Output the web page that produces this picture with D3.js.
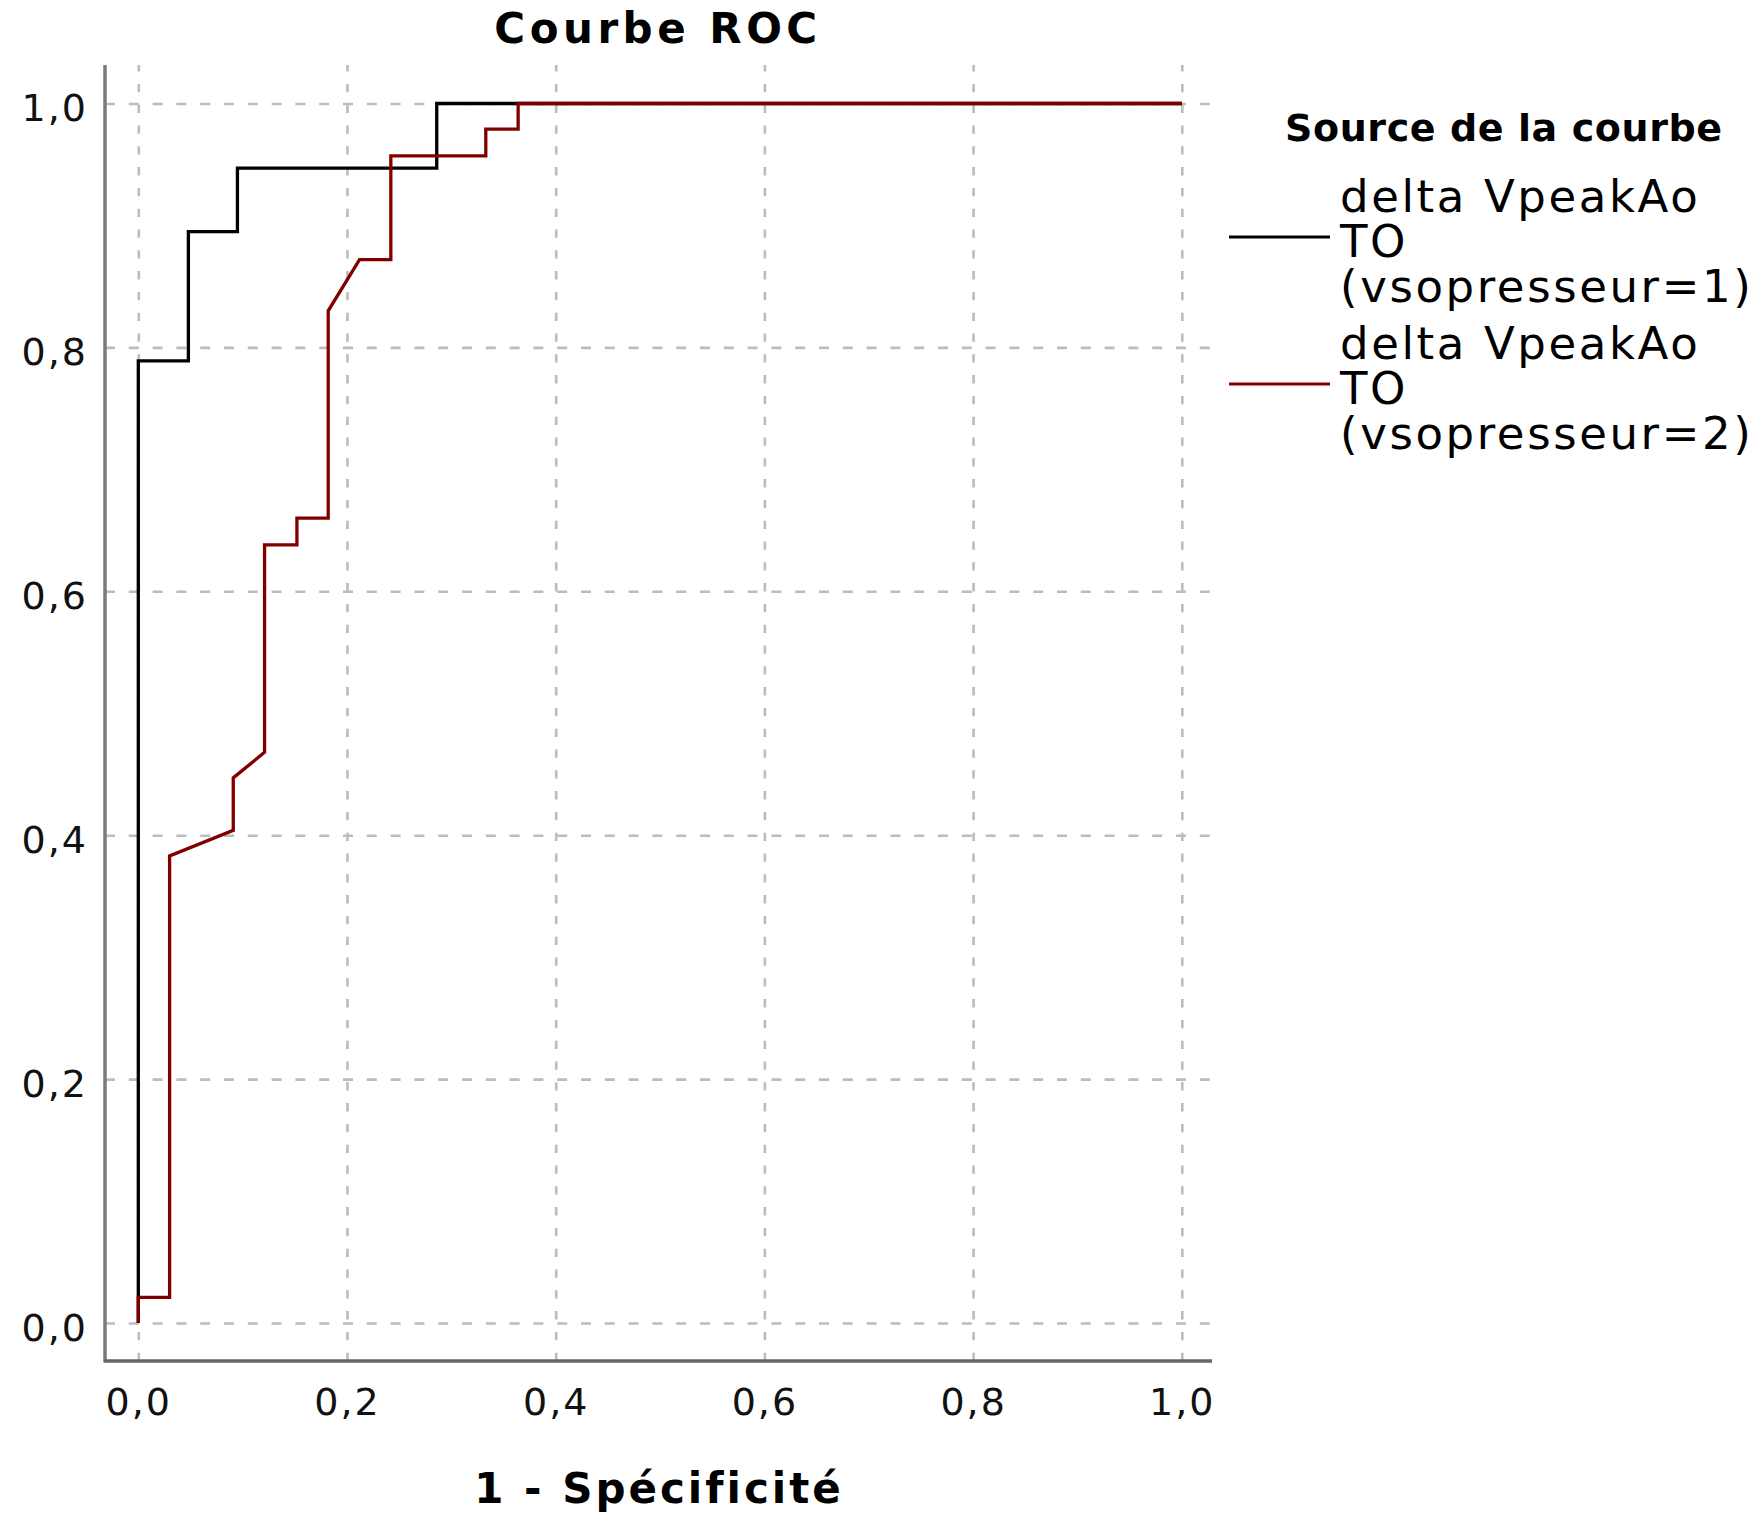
<!DOCTYPE html>
<html>
<head>
<meta charset="utf-8">
<script src="https://cdn.jsdelivr.net/npm/d3@7"></script>
<style>
  html, body { margin: 0; padding: 0; background: #fff; }
  svg { display: block; font-family: "DejaVu Sans", sans-serif; }
</style>
</head>
<body>
<svg id="chart" width="1757" height="1516"></svg>
<script>
// ---------- données ----------
const xTicks = [0, 0.2, 0.4, 0.6, 0.8, 1.0];
const yTicks = [0, 0.2, 0.4, 0.6, 0.8, 1.0];

// vsopresseur = 1
const fprGroupe1 = [0, 0, 0.048, 0.048, 0.095, 0.095, 0.286, 0.286, 1];
const tprGroupe1 = [0, 0.789, 0.789, 0.895, 0.895, 0.947, 0.947, 1, 1];

// vsopresseur = 2
const fprGroupe2 = [0, 0, 0.030, 0.030, 0.091, 0.091, 0.121, 0.121, 0.152, 0.152,
                    0.182, 0.182, 0.212, 0.242, 0.242, 0.333, 0.333, 0.364, 0.364, 1];
const tprGroupe2 = [0, 0.021, 0.021, 0.383, 0.404, 0.447, 0.468, 0.638, 0.638, 0.660,
                    0.660, 0.830, 0.872, 0.872, 0.957, 0.957, 0.979, 0.979, 1, 1];

const nomsSeries = [
  ["delta VpeakAo", "TO", "(vsopresseur=1)"],
  ["delta VpeakAo", "TO", "(vsopresseur=2)"],
];
const couleursSeries = ["#000000", "#800000"];

const titre = "Courbe ROC";
const titreX = "1 - Spécificité";
const titreLegende = "Source de la courbe";

// ---------- mise en page ----------
const svg = d3.select("#chart");

const cadre = { left: 105, right: 1212, top: 65, bottom: 1361 };

const x = d3.scaleLinear().domain([0, 1]).range([138.3, 1181.8]);
const y = d3.scaleLinear().domain([0, 1]).range([1323, 103.5]);

const fr = d3.formatLocale({ decimal: ",", thousands: " ", grouping: [3], currency: ["", " €"] });
const fmt = fr.format(".1f");

// grille verticale
svg.append("g")
  .attr("transform", `translate(0,${cadre.bottom})`)
  .call(d3.axisBottom(x).tickValues(xTicks).tickSize(-(cadre.bottom - cadre.top)).tickFormat(""))
  .call(g => g.select(".domain").remove())
  .call(g => g.selectAll(".tick line")
    .attr("stroke", "#bcbcbc")
    .attr("stroke-width", 2.6)
    .attr("stroke-dasharray", "8.3 12.5"));

// grille horizontale
svg.append("g")
  .attr("transform", `translate(${cadre.left},0)`)
  .call(d3.axisLeft(y).tickValues(yTicks).tickSize(-(cadre.right - cadre.left)).tickFormat(""))
  .call(g => g.select(".domain").remove())
  .call(g => g.selectAll(".tick line")
    .attr("stroke", "#bcbcbc")
    .attr("stroke-width", 2.6)
    .attr("stroke-dasharray", "10 13.8"));

// étiquettes des axes
svg.append("g")
  .attr("transform", `translate(0,${cadre.bottom})`)
  .call(d3.axisBottom(x).tickValues(xTicks).tickSize(0).tickFormat(fmt))
  .call(g => g.select(".domain").remove())
  .call(g => g.selectAll("text")
    .attr("dy", null)
    .attr("y", 54)
    .attr("fill", "#111")
    .style("font-size", "38px")
    .style("letter-spacing", "2px")
    .style("font-family", "DejaVu Sans"));

svg.append("g")
  .attr("transform", `translate(${cadre.left},0)`)
  .call(d3.axisLeft(y).tickValues(yTicks).tickSize(0).tickFormat(fmt))
  .call(g => g.select(".domain").remove())
  .call(g => g.selectAll("text")
    .attr("dy", null)
    .attr("x", -17)
    .attr("y", 17)
    .attr("fill", "#111")
    .style("font-size", "38px")
    .style("letter-spacing", "2px")
    .style("font-family", "DejaVu Sans"));

// lignes d'axe
svg.append("line")
  .attr("x1", cadre.left).attr("x2", cadre.left)
  .attr("y1", cadre.top).attr("y2", cadre.bottom)
  .attr("stroke", "#7a7a7a").attr("stroke-width", 3.5);
svg.append("line")
  .attr("x1", cadre.left - 1.5).attr("x2", cadre.right)
  .attr("y1", cadre.bottom).attr("y2", cadre.bottom)
  .attr("stroke", "#666").attr("stroke-width", 3.5);

// courbes
const ligne = d3.line().x(d => x(d[0])).y(d => y(d[1]));
const series = [
  d3.zip(fprGroupe1, tprGroupe1),
  d3.zip(fprGroupe2, tprGroupe2),
];

svg.append("g")
  .selectAll("path")
  .data(series)
  .enter()
  .append("path")
  .attr("d", ligne)
  .attr("fill", "none")
  .attr("stroke", (d, i) => couleursSeries[i])
  .attr("stroke-width", 3.3)
  .attr("stroke-linejoin", "miter");

// titres
svg.append("text")
  .attr("x", 658).attr("y", 43)
  .attr("text-anchor", "middle")
  .style("font-size", "42px")
  .style("font-weight", "bold")
  .style("letter-spacing", "4.5px")
  .text(titre);

svg.append("text")
  .attr("x", 659).attr("y", 1503)
  .attr("text-anchor", "middle")
  .style("font-size", "42px")
  .style("font-weight", "bold")
  .style("letter-spacing", "3px")
  .text(titreX);

// légende
const leg = svg.append("g").attr("class", "legende");

leg.append("text")
  .attr("x", 1285).attr("y", 141)
  .style("font-size", "38px")
  .style("font-weight", "bold")
  .style("letter-spacing", "0.6px")
  .text(titreLegende);

nomsSeries.forEach((lignes, i) => {
  const gy = leg.append("g").attr("transform", `translate(0,${i * 147})`);

  gy.append("line")
    .attr("x1", 1229).attr("x2", 1330)
    .attr("y1", 237).attr("y2", 237)
    .attr("stroke", couleursSeries[i])
    .attr("stroke-width", 3);

  lignes.forEach((t, j) => {
    gy.append("text")
      .attr("x", 1340)
      .attr("y", 212 + j * 45)
      .style("font-size", "45px")
      .style("letter-spacing", "2.6px")
      .text(t);
  });
});
</script>
</body>
</html>
